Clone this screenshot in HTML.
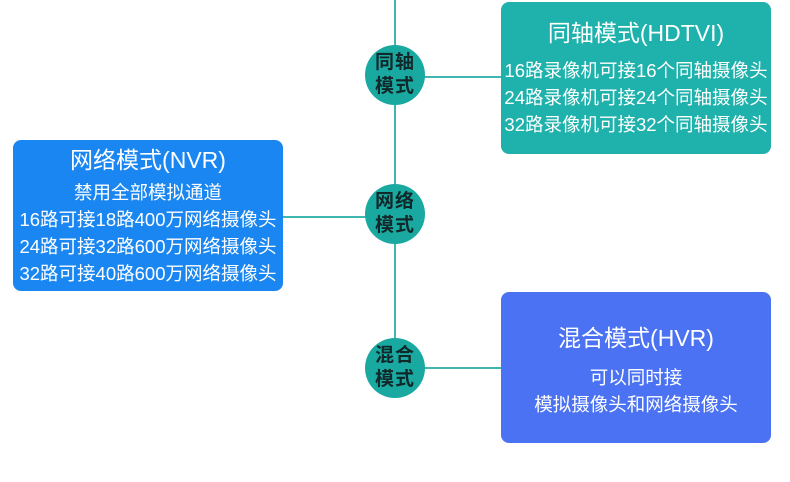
<!DOCTYPE html>
<html><head><meta charset="utf-8"><style>
*{margin:0;padding:0;box-sizing:border-box}
body{width:790px;height:482px;background:#fff;position:relative;overflow:hidden;font-family:"Liberation Sans","Noto Sans CJK SC",sans-serif}
.l{position:absolute;background:#3fb6b0}
.c{position:absolute;width:60px;height:60px;border-radius:50%;background:#1aa9a1;color:#10282a;font-size:19px;line-height:24px;text-align:center;padding-top:6px;letter-spacing:1px;font-weight:bold}
.b{position:absolute;border-radius:8px;color:#fff;text-align:center;white-space:nowrap}
.t{font-size:23px;line-height:26px}
.s{font-size:18.5px;line-height:27px}
</style></head><body>
<div class="l" style="left:394px;top:0;width:2px;height:345px"></div>
<div class="l" style="left:420px;top:76px;width:82px;height:2px"></div>
<div class="l" style="left:282px;top:216px;width:90px;height:2px"></div>
<div class="l" style="left:420px;top:367px;width:82px;height:2px"></div>

<div class="c" style="left:365px;top:45px">同轴<br>模式</div>
<div class="c" style="left:365px;top:184px">网络<br>模式</div>
<div class="c" style="left:365px;top:338px">混合<br>模式</div>

<div class="b" style="left:501px;top:2px;width:270px;height:152px;background:#1fb1ab">
<div class="t" style="margin-top:18px">同轴模式(HDTVI)</div>
<div class="s" style="margin-top:11px">16路录像机可接16个同轴摄像头<br>24路录像机可接24个同轴摄像头<br>32路录像机可接32个同轴摄像头</div>
</div>

<div class="b" style="left:13px;top:140px;width:270px;height:151px;background:#1a86f1">
<div class="t" style="margin-top:7px">网络模式(NVR)</div>
<div class="s" style="margin-top:6px">禁用全部模拟通道<br>16路可接18路400万网络摄像头<br>24路可接32路600万网络摄像头<br>32路可接40路600万网络摄像头</div>
</div>

<div class="b" style="left:501px;top:292px;width:270px;height:151px;background:#4a72f3">
<div class="t" style="margin-top:33px">混合模式(HVR)</div>
<div class="s" style="margin-top:13px">可以同时接<br>模拟摄像头和网络摄像头</div>
</div>
</body></html>
